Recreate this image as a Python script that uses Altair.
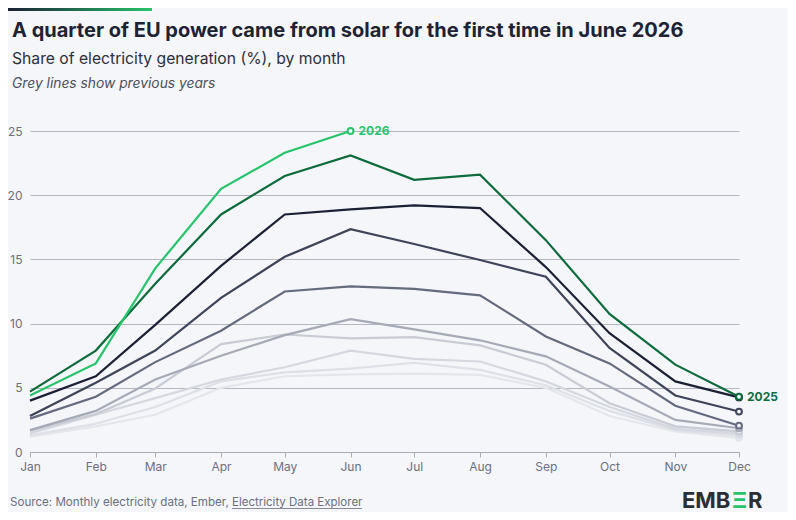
import altair as alt
import pandas as pd

# ---------------- data ----------------
months = ["Jan", "Feb", "Mar", "Apr", "May", "Jun", "Jul", "Aug", "Sep", "Oct", "Nov", "Dec"]
month_dates = ["2025-01-01T00:00:00", "2025-02-01T00:00:00", "2025-03-01T00:00:00",
               "2025-04-01T00:00:00", "2025-05-01T00:00:00", "2025-06-01T00:00:00",
               "2025-07-01T00:00:00", "2025-08-01T00:00:00", "2025-09-01T00:00:00",
               "2025-10-01T00:00:00", "2025-11-01T00:00:00", "2025-12-01T00:00:00"]

years = ["2017", "2018", "2019", "2020", "2021", "2022", "2023", "2024", "2025", "2026"]

s2017 = [1.2, 2.0, 2.9, 5.0, 5.9, 6.05, 6.1, 6.0, 5.0, 2.8, 1.6, 1.1]
s2018 = [1.3, 2.2, 3.5, 5.5, 6.2, 6.5, 6.95, 6.4, 5.2, 3.2, 1.7, 1.3]
s2019 = [1.45, 2.9, 4.2, 5.65, 6.6, 7.9, 7.25, 7.05, 5.5, 3.5, 1.8, 1.45]
s2020 = [1.65, 2.95, 4.95, 8.4, 9.15, 8.85, 8.95, 8.3, 6.8, 3.8, 2.0, 1.6]
s2021 = [1.7, 3.2, 5.65, 7.5, 9.1, 10.35, 9.55, 8.7, 7.45, 5.1, 2.5, 1.85]
s2022 = [2.6, 4.3, 7.0, 9.45, 12.5, 12.9, 12.7, 12.2, 9.0, 6.9, 3.6, 2.05]
s2023 = [2.8, 5.4, 7.9, 12.0, 15.2, 17.35, 16.2, 14.95, 13.65, 8.1, 4.4, 3.15]
s2024 = [4.0, 5.9, 9.9, 14.5, 18.5, 18.9, 19.2, 19.0, 14.4, 9.25, 5.5, 4.25]
s2025 = [4.7, 7.9, 13.1, 18.5, 21.5, 23.1, 21.2, 21.6, 16.5, 10.75, 6.8, 4.3]
s2026 = [4.4, 6.9, 14.3, 20.5, 23.3, 25.0]

series = [s2017, s2018, s2019, s2020, s2021, s2022, s2023, s2024, s2025, s2026]

year_colors = ["#e4e6eb", "#dde0e6", "#d5d8df", "#c9ccd5", "#a6aab6", "#646b7f",
               "#3e4459", "#1b2035", "#0e6b3b", "#27c46c"]

title_text = "A quarter of EU power came from solar for the first time in June 2026"
subtitle_text = "Share of electricity generation (%), by month"
note_text = "Grey lines show previous years"
source_text = "Source: Monthly electricity data, Ember, "
source_link = "Electricity Data Explorer"

# ---------------- tables ----------------
rows = []
for yr, vals in zip(years, series):
    for i, v in enumerate(vals):
        rows.append({"year": yr, "date": month_dates[i], "month": months[i], "share": v,
                     "last": i == len(vals) - 1})
df = pd.DataFrame(rows)
ends = df[df["last"]]
labels = ends[ends["year"].isin(["2025", "2026"])]

BG = "#f5f6fa"
FONT = "Inter"
one = pd.DataFrame({"k": [0]})

color_scale = alt.Scale(domain=years, range=year_colors)

x_enc = alt.X("date:T",
              scale=alt.Scale(domain=[alt.DateTime(year=2025, month=1, date=1),
                                      alt.DateTime(year=2025, month=12, date=1)]),
              axis=alt.Axis(format="%b", tickCount={"interval": "month", "step": 1},
                            grid=False, domainColor="#a9adb8", tickColor="#a9adb8",
                            tickSize=5, labelColor="#6b7080", labelFontSize=12,
                            labelPadding=4, labelFlush=False, title=None, labelFont=FONT))
y_enc = alt.Y("share:Q",
              scale=alt.Scale(domain=[0, 25], nice=False),
              axis=alt.Axis(values=[0, 5, 10, 15, 20, 25], grid=True, gridColor="#b4b7c1",
                            domain=False, ticks=False, labelColor="#6b7080",
                            labelFontSize=12, labelPadding=8, title=None, labelFont=FONT))

lines = alt.Chart(df).mark_line(strokeWidth=2.2).encode(
    x=x_enc, y=y_enc,
    color=alt.Color("year:N", scale=color_scale, legend=None),
)

points = alt.Chart(ends).mark_circle(size=34, fill=BG, fillOpacity=1, strokeWidth=2, opacity=1).encode(
    x="date:T", y="share:Q",
    stroke=alt.Color("year:N", scale=color_scale, legend=None),
)

texts = alt.Chart(labels).mark_text(align="left", baseline="middle", dx=8, fontSize=12,
                                    fontWeight="bold", font=FONT).encode(
    x="date:T", y="share:Q", text="year:N",
    color=alt.Color("year:N", scale=color_scale, legend=None),
)

def note(txt, x, y, size, color, weight="normal", style="normal", align="left"):
    return alt.Chart(one).mark_text(align=align, baseline="alphabetic", fontSize=size,
                                    color=color, fontWeight=weight, fontStyle=style,
                                    font=FONT).encode(
        x=alt.value(x), y=alt.value(y), text=alt.value(txt))

bar = alt.Chart(one).mark_rect(
    color=alt.LinearGradient(gradient="linear",
                             stops=[alt.GradientStop(color="#1b2035", offset=0),
                                    alt.GradientStop(color="#27c46c", offset=1)],
                             x1=0, x2=1, y1=0, y2=0)
).encode(x=alt.value(-22), x2=alt.value(122), y=alt.value(-123), y2=alt.value(-120))

title = note(title_text, -18, -94, 20, "#1d2333", weight="bold")
subtitle = note(subtitle_text, -18, -67, 15.7, "#2b2f3a")
italic = note(note_text, -18, -43, 13.8, "#4a4f5c", style="italic")
source = note(source_text, -20, 375, 11.6, "#6b7080")
link = note(source_link, 202, 375, 11.5, "#6b7080")
underline = alt.Chart(one).mark_rule(color="#6b7080", strokeWidth=0.8).encode(
    x=alt.value(202), x2=alt.value(332), y=alt.value(377.5))
logo1 = note("EMB", 652, 377, 22, "#2b2f33", weight="bold")
logo2 = note("Ξ", 702, 377, 22, "#27c46c", weight="bold")
logo3 = note("R", 718, 377, 22, "#2b2f33", weight="bold")

chart = alt.layer(bar, lines, points, texts, title, subtitle, italic, source, link,
                  underline, logo1, logo2, logo3).properties(
    width=709, height=321,
    background=BG,
    padding={"left": 22, "top": 123, "right": 49, "bottom": 60},
    autosize=alt.AutoSizeParams(type="none"),
).configure_view(stroke=None)

chart.save("out.html", embed_options={"renderer": "svg", "actions": False})
